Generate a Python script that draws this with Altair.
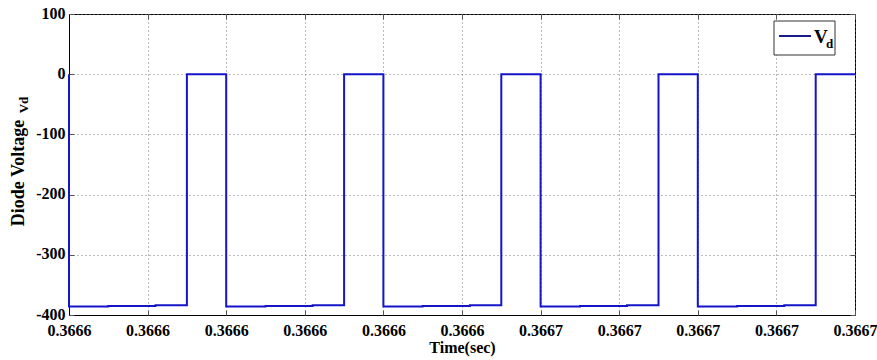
import altair as alt
import pandas as pd

# ---- data ----
time_s = [
    0.366600, 0.366600, 0.366605, 0.366605, 0.366611, 0.366611, 0.366615, 0.366615, 0.366620,
    0.366620, 0.366625, 0.366625, 0.366631, 0.366631, 0.366635, 0.366635, 0.366640,
    0.366640, 0.366645, 0.366645, 0.366651, 0.366651, 0.366655, 0.366655, 0.366660,
    0.366660, 0.366665, 0.366665, 0.366671, 0.366671, 0.366675, 0.366675, 0.366680,
    0.366680, 0.366685, 0.366685, 0.366691, 0.366691, 0.366695, 0.366695, 0.366700,
]
vd = [
    0, -386, -386, -385, -385, -384, -384, 0, 0,
    -386, -386, -385, -385, -384, -384, 0, 0,
    -386, -386, -385, -385, -384, -384, 0, 0,
    -386, -386, -385, -385, -384, -384, 0, 0,
    -386, -386, -385, -385, -384, -384, 0, 0,
]
x_ticks = [0.36660, 0.36661, 0.36662, 0.36663, 0.36664, 0.36665,
           0.36666, 0.36667, 0.36668, 0.36669, 0.36670]
x_tick_labels = ["0.3666", "0.3666", "0.3666", "0.3666", "0.3666", "0.3666",
                 "0.3667", "0.3667", "0.3667", "0.3667", "0.3667"]
y_ticks = [100, 0, -100, -200, -300, -400]
x_title = "Time(sec)"
y_title = "Diode Voltage"
y_title_sub = "Vd"
legend_main = "V"
legend_sub = "d"

df = pd.DataFrame({"t": time_s, "v": vd, "i": list(range(len(time_s)))})

FONT = "Liberation Serif"
LINE_COLOR = "#1414C8"
W, H = 786, 301

xscale = alt.Scale(domain=[x_ticks[0], x_ticks[-1]], zero=False, nice=False)
yscale = alt.Scale(domain=[-400, 100], zero=False, nice=False)

label_arr = "[" + ",".join("'%s'" % s for s in x_tick_labels) + "]"
x_label_expr = "%s[round((datum.value - %.5f) * 100000)]" % (label_arr, x_ticks[0])

main = alt.Chart(df).mark_line(color=LINE_COLOR, strokeWidth=2).encode(
    x=alt.X("t:Q", scale=xscale, axis=alt.Axis(
        orient="bottom", values=x_ticks, labelExpr=x_label_expr, title=x_title,
        grid=True, gridDash=[1, 3], gridColor="#777", gridWidth=1,
        tickSize=0, domainColor="black", domainWidth=1,
        labelFont=FONT, labelFontSize=16, labelFontWeight="bold", labelColor="black",
        labelPadding=7, labelOverlap=False, labelFlush=False,
        titleFont=FONT, titleFontSize=16, titleFontWeight="bold", titleColor="black",
        titlePadding=1)),
    y=alt.Y("v:Q", scale=yscale, axis=alt.Axis(
        orient="left", values=y_ticks, labelExpr="'' + datum.value", title=None,
        grid=True, gridDash=[1, 3], gridColor="#777", gridWidth=1,
        tickSize=0, domainColor="black", domainWidth=1,
        labelFont=FONT, labelFontSize=16, labelFontWeight="bold", labelColor="black",
        labelPadding=4, labelOffset=-1, labelOverlap=False, labelFlush=False)),
    order="i:Q",
)

def tick_layer(xorient, yorient):
    return alt.Chart(df).mark_point(opacity=0).encode(
        x=alt.X("t:Q", scale=xscale, axis=alt.Axis(
            orient=xorient, values=x_ticks, offset=-5, tickSize=5, tickColor="#555",
            labels=False, domain=False, grid=False, title=None)),
        y=alt.Y("v:Q", scale=yscale, axis=alt.Axis(
            orient=yorient, values=y_ticks, offset=-5, tickSize=5, tickColor="#555",
            labels=False, domain=False, grid=False, title=None)),
    )

one = pd.DataFrame({"a": [0]})

ytitle = alt.Chart(one).mark_text(
    angle=270, font=FONT, fontSize=18, fontWeight="bold", color="black",
    align="center", baseline="alphabetic").encode(
    x=alt.value(-45), y=alt.value(159), text=alt.value(y_title))
ytitle_sub = alt.Chart(one).mark_text(
    angle=270, font=FONT, fontSize=13, fontWeight="bold", color="black",
    align="center", baseline="alphabetic").encode(
    x=alt.value(-41), y=alt.value(91), text=alt.value(y_title_sub))

leg_box = alt.Chart(one).mark_rect(fill="white", stroke="#333", strokeWidth=1).encode(
    x=alt.value(705), x2=alt.value(766), y=alt.value(7), y2=alt.value(41))
leg_line = alt.Chart(one).mark_rule(color="#1A1A8C", strokeWidth=2).encode(
    x=alt.value(710), x2=alt.value(742), y=alt.value(22))
leg_v = alt.Chart(one).mark_text(
    font=FONT, fontSize=19, fontWeight="bold", color="black", align="left",
    baseline="alphabetic").encode(x=alt.value(745), y=alt.value(29), text=alt.value(legend_main))
leg_d = alt.Chart(one).mark_text(
    font=FONT, fontSize=13, fontWeight="bold", color="black", align="left",
    baseline="alphabetic").encode(x=alt.value(757), y=alt.value(34), text=alt.value(legend_sub))

chart = alt.layer(
    main, tick_layer("bottom", "left"), tick_layer("top", "right"),
    ytitle, ytitle_sub, leg_box, leg_line, leg_v, leg_d,
).resolve_axis(x="independent", y="independent").properties(
    width=W, height=H,
    padding={"left": 69, "top": 14, "right": 22, "bottom": 45},
    autosize=alt.AutoSizeParams(type="none"),
    background="white",
).configure_view(stroke="black", strokeWidth=1)

chart.save("out.html", embed_options={"renderer": "svg", "actions": False})
